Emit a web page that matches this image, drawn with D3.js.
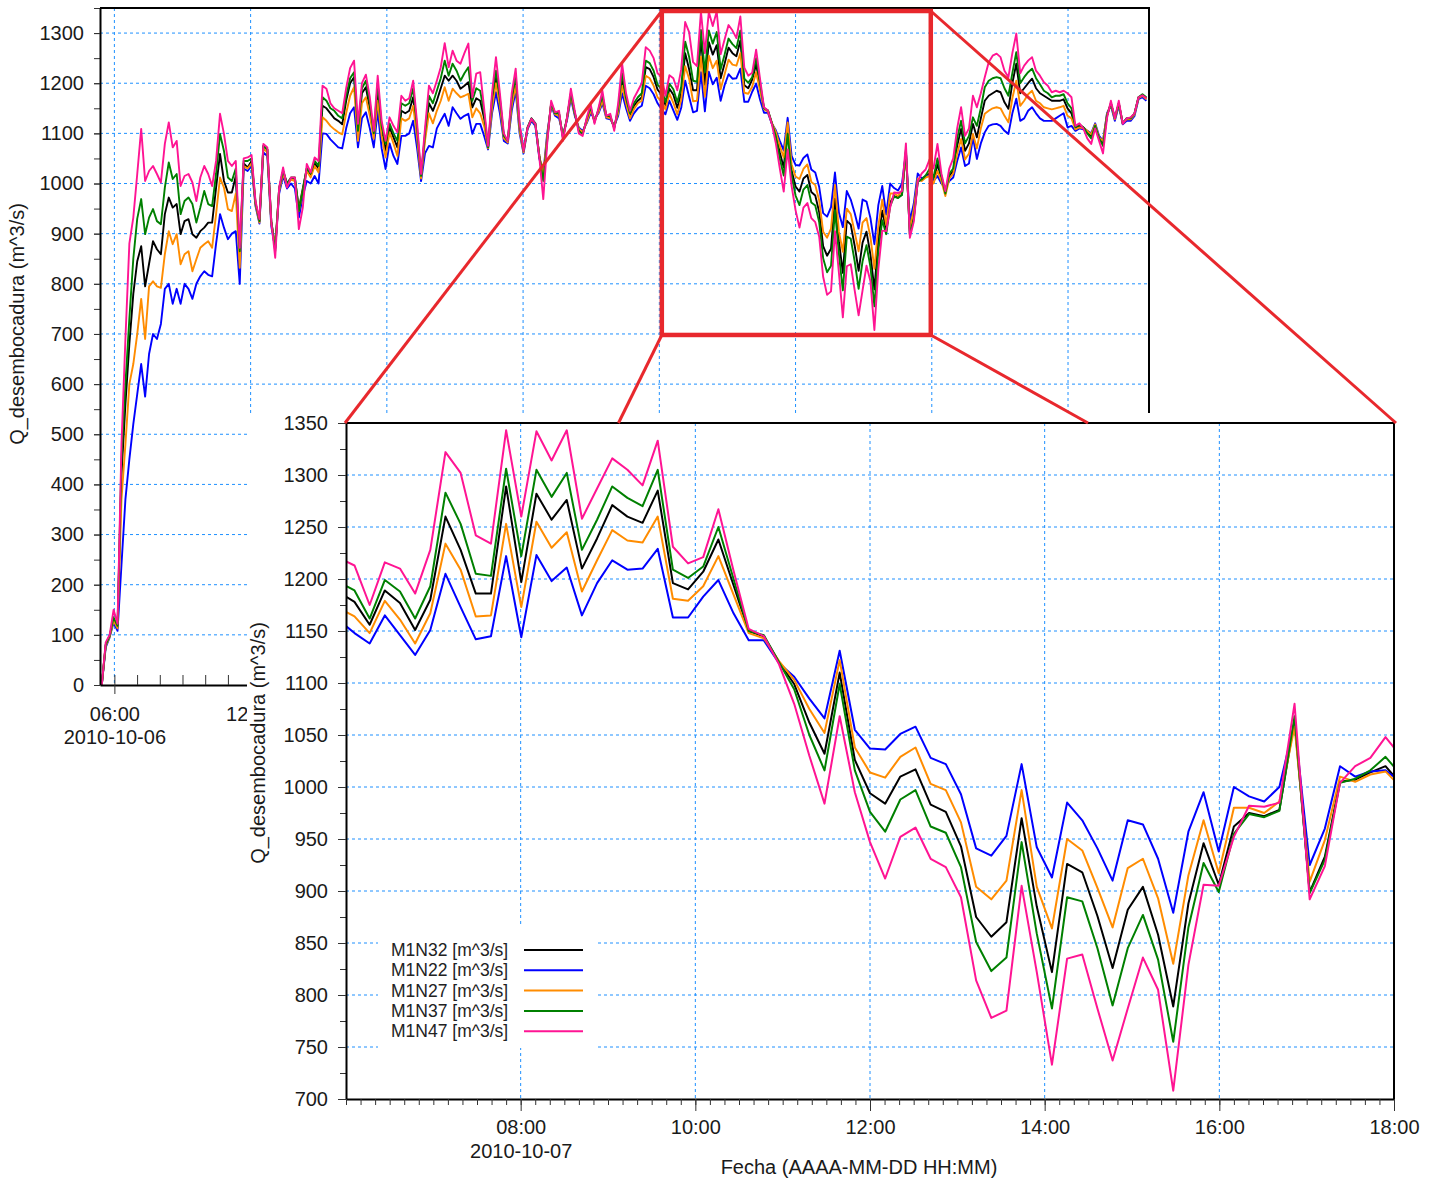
<!DOCTYPE html>
<html>
<head>
<meta charset="utf-8">
<script src="https://cdn.jsdelivr.net/npm/d3@7/dist/d3.min.js"></script>
<style>
  body { margin: 0; background: #fff; }
  svg { display: block; }
  text { font-family: "Liberation Sans", Arial, sans-serif; }
</style>
</head>
<body>
<svg id="chart" width="1436" height="1185"></svg>
<script>
// ---- Series metadata -------------------------------------------------------
const seriesNames  = ["M1N32 [m^3/s]", "M1N22 [m^3/s]", "M1N27 [m^3/s]", "M1N37 [m^3/s]", "M1N47 [m^3/s]"];
const seriesColors = ["#000000", "#0000ff", "#ff8c00", "#008000", "#ff1493"];

// Sampling of the model output (one value every 625 s)
const startTime   = "2010-10-06T05:26:40Z";
const stepSeconds = 625;

// Discharge at the river mouth, m^3/s
const m1n32 = [
  0, 80, 98, 130, 115, 420, 560, 680, 780, 845, 875,
  795, 840, 885, 869, 859, 939, 972, 952, 959, 899,
  925, 929, 899, 892, 905, 912, 922, 922, 992, 1059,
  1005, 982, 982, 1015, 852, 1040, 1032, 1045, 960, 925,
  1075, 1068, 925, 872, 990, 1025, 1000, 1010, 1010, 950,
  990, 1030, 1018, 1040, 1030, 1155, 1150, 1140, 1130, 1125,
  1118, 1165, 1200, 1212, 1100, 1180, 1192, 1150, 1099, 1182,
  1110, 1065, 1112, 1092, 1072, 1145, 1140, 1145, 1172, 1100,
  1012, 1095, 1160, 1145, 1165, 1190, 1215, 1205, 1215, 1205,
  1189, 1195, 1202, 1152, 1170, 1165, 1130, 1072, 1160, 1212,
  1165, 1092, 1085, 1162, 1205, 1110, 1065, 1112, 1130, 1120,
  1055, 1010, 1090, 1160, 1140, 1140, 1092, 1130, 1178, 1140,
  1108, 1100, 1125, 1148, 1125, 1145, 1170, 1135, 1132, 1112,
  1145, 1205, 1165, 1135, 1155, 1165, 1172, 1232, 1228, 1212,
  1187, 1178, 1156, 1189, 1177, 1151, 1180, 1260, 1228, 1186,
  1186, 1289, 1197, 1282, 1257, 1276, 1210, 1239, 1271, 1260,
  1254, 1285, 1196, 1190, 1207, 1238, 1194, 1150, 1145, 1120,
  1099, 1062, 1032, 1110, 1026, 994, 984, 1010, 1017, 983,
  976, 943, 875, 856, 870, 970, 885, 822, 926, 918,
  876, 826, 882, 904, 858, 789, 888, 946, 906, 962,
  975, 972, 978, 1064, 899, 933, 1005, 1007, 1014, 1020,
  1003, 1039, 1010, 985, 1015, 1025, 1075, 1109, 1065, 1080,
  1119, 1092, 1130, 1165, 1175, 1180, 1185, 1182, 1162, 1149,
  1200, 1239, 1180, 1190, 1200, 1209, 1190, 1180, 1175, 1170,
  1165, 1165, 1165, 1168, 1150, 1140, 1110, 1115, 1112, 1105,
  1095, 1115, 1090, 1080, 1135, 1160, 1130, 1160, 1120, 1130,
  1130, 1140, 1172, 1176, 1170
];
const m1n22 = [
  0, 75, 95, 125, 108, 240, 370, 450, 520, 580, 640,
  575, 660, 700, 690, 720, 790, 800, 760, 790, 760,
  800, 790, 770, 800, 815, 825, 818, 815, 880, 939,
  912, 889, 900, 905, 800, 1030, 1025, 1035, 955, 920,
  1062, 1055, 915, 870, 980, 1015, 990, 1000, 990, 932,
  975, 1005, 1000, 1015, 1000, 1100, 1099, 1088, 1080, 1072,
  1070, 1110, 1140, 1152, 1072, 1130, 1142, 1110, 1072, 1145,
  1070, 1029, 1080, 1055, 1039, 1095, 1095, 1100, 1125, 1070,
  1005, 1060, 1075, 1072, 1110, 1125, 1139, 1115, 1152, 1140,
  1129, 1135, 1139, 1099, 1119, 1119, 1095, 1068, 1140, 1182,
  1140, 1085, 1080, 1145, 1185, 1100, 1060, 1108, 1125, 1115,
  1050, 1019, 1100, 1155, 1135, 1130, 1098, 1125, 1170, 1135,
  1112, 1105, 1120, 1140, 1130, 1140, 1160, 1130, 1128, 1115,
  1135, 1180, 1150, 1125, 1140, 1150, 1155, 1195, 1190, 1178,
  1160, 1148, 1138, 1165, 1146, 1127, 1151, 1205, 1173, 1142,
  1145, 1222, 1144, 1223, 1198, 1211, 1165, 1196, 1218, 1209,
  1210, 1229, 1163, 1163, 1183, 1199, 1167, 1141, 1141, 1119,
  1106, 1085, 1066, 1131, 1055, 1037, 1036, 1051, 1058, 1028,
  1022, 993, 941, 934, 953, 1022, 942, 913, 985, 968,
  941, 910, 968, 964, 931, 879, 957, 995, 938, 1000,
  991, 986, 1000, 1062, 925, 960, 1020, 1010, 1015, 1016,
  1005, 1015, 1000, 990, 1005, 1012, 1045, 1072, 1035, 1040,
  1092, 1049, 1080, 1102, 1115, 1118, 1119, 1115, 1105, 1099,
  1140, 1169, 1125, 1130, 1145, 1152, 1140, 1130, 1125, 1125,
  1125, 1130, 1135, 1140, 1112, 1115, 1105, 1110, 1108, 1105,
  1100, 1120, 1095, 1085, 1140, 1155, 1125, 1155, 1118, 1125,
  1125, 1135, 1168, 1172, 1165
];
const m1n27 = [
  0, 78, 96, 128, 113, 370, 480, 600, 640, 700, 770,
  690, 795, 805, 795, 792, 859, 905, 879, 899, 839,
  859, 865, 825, 849, 872, 879, 885, 872, 939, 1012,
  992, 949, 945, 980, 832, 1035, 1030, 1040, 958, 922,
  1070, 1062, 920, 875, 985, 1020, 995, 1008, 1005, 945,
  985, 1025, 1012, 1035, 1022, 1132, 1125, 1115, 1108, 1102,
  1098, 1140, 1175, 1192, 1085, 1160, 1172, 1135, 1089, 1165,
  1095, 1052, 1102, 1080, 1055, 1130, 1125, 1130, 1155, 1090,
  1010, 1085, 1140, 1120, 1145, 1165, 1192, 1165, 1189, 1180,
  1172, 1175, 1179, 1132, 1150, 1140, 1115, 1070, 1150, 1200,
  1155, 1090, 1082, 1155, 1195, 1105, 1062, 1110, 1128, 1118,
  1055, 1015, 1095, 1158, 1138, 1135, 1095, 1128, 1175, 1138,
  1110, 1102, 1122, 1145, 1128, 1142, 1165, 1132, 1130, 1114,
  1140, 1195, 1160, 1130, 1148, 1160, 1165, 1215, 1210, 1195,
  1172, 1164, 1148, 1179, 1161, 1138, 1167, 1234, 1209, 1164,
  1165, 1253, 1173, 1255, 1230, 1245, 1188, 1218, 1247, 1237,
  1235, 1260, 1181, 1179, 1193, 1222, 1185, 1148, 1143, 1121,
  1103, 1075, 1052, 1122, 1038, 1014, 1009, 1029, 1038, 1003,
  997, 966, 904, 892, 910, 997, 904, 864, 950, 939,
  903, 865, 922, 931, 893, 830, 915, 968, 917, 980,
  980, 975, 986, 1058, 909, 949, 1010, 1005, 1012, 1015,
  1000, 1025, 1005, 975, 1010, 1020, 1060, 1089, 1048, 1060,
  1099, 1070, 1110, 1139, 1145, 1150, 1152, 1150, 1135, 1122,
  1170, 1205, 1155, 1165, 1178, 1185, 1165, 1160, 1152, 1150,
  1148, 1150, 1152, 1155, 1135, 1130, 1108, 1112, 1110, 1105,
  1098, 1118, 1092, 1085, 1138, 1158, 1128, 1158, 1120, 1128,
  1128, 1138, 1170, 1175, 1168
];
const m1n37 = [
  0, 80, 98, 135, 118, 450, 600, 730, 850, 930, 969,
  899, 932, 949, 925, 919, 992, 1042, 1009, 1019, 939,
  965, 972, 959, 922, 952, 985, 959, 955, 1019, 1099,
  1065, 1012, 1005, 1030, 865, 1045, 1045, 1050, 962, 925,
  1075, 1068, 925, 865, 990, 1025, 1000, 1012, 1012, 945,
  985, 1030, 1020, 1045, 1035, 1172, 1165, 1150, 1145, 1135,
  1130, 1175, 1210, 1222, 1105, 1190, 1205, 1160, 1100, 1199,
  1115, 1079, 1120, 1100, 1085, 1160, 1155, 1160, 1190, 1110,
  1015, 1100, 1175, 1160, 1185, 1210, 1245, 1215, 1239, 1225,
  1205, 1220, 1232, 1165, 1190, 1185, 1140, 1072, 1170, 1225,
  1170, 1095, 1085, 1170, 1215, 1115, 1065, 1110, 1129, 1119,
  1055, 1005, 1085, 1160, 1140, 1140, 1090, 1130, 1180, 1140,
  1105, 1098, 1128, 1152, 1122, 1148, 1175, 1135, 1135, 1110,
  1150, 1220, 1170, 1140, 1160, 1172, 1180, 1245, 1240, 1225,
  1197, 1189, 1162, 1199, 1188, 1162, 1193, 1283, 1253, 1205,
  1203, 1306, 1222, 1305, 1279, 1302, 1228, 1257, 1289, 1278,
  1270, 1305, 1209, 1201, 1212, 1250, 1200, 1150, 1146, 1120,
  1094, 1050, 1016, 1099, 1016, 976, 957, 988, 997, 962,
  956, 923, 851, 823, 836, 947, 859, 787, 894, 890,
  845, 790, 845, 877, 834, 755, 865, 927, 899, 955,
  974, 971, 977, 1068, 898, 930, 1004, 1008, 1016, 1029,
  1012, 1050, 1015, 980, 1020, 1030, 1090, 1125, 1080, 1095,
  1132, 1115, 1150, 1192, 1205, 1210, 1212, 1210, 1190, 1175,
  1220, 1262, 1200, 1212, 1222, 1229, 1210, 1198, 1185, 1180,
  1172, 1175, 1175, 1178, 1160, 1150, 1112, 1118, 1112, 1100,
  1090, 1115, 1090, 1075, 1135, 1160, 1130, 1160, 1120, 1130,
  1130, 1140, 1172, 1178, 1172
];
const m1n47 = [
  0, 85, 100, 150, 122, 480, 690, 880, 932, 1019, 1109,
  1005, 1025, 1035, 1019, 1002, 1079, 1122, 1072, 1085, 995,
  1015, 1019, 1002, 965, 1012, 1035, 1019, 995, 1045, 1139,
  1099, 1045, 1035, 1045, 872, 1050, 1052, 1057, 965, 929,
  1079, 1072, 925, 852, 992, 1032, 992, 1012, 1012, 909,
  952, 1039, 1022, 1052, 1045, 1195, 1189, 1160, 1150, 1145,
  1140, 1190, 1230, 1245, 1119, 1200, 1217, 1172, 1105, 1215,
  1125, 1085, 1132, 1115, 1102, 1175, 1165, 1170, 1205, 1120,
  1019, 1110, 1195, 1180, 1205, 1232, 1280, 1232, 1265, 1245,
  1239, 1260, 1279, 1172, 1219, 1222, 1150, 1075, 1180, 1252,
  1180, 1100, 1085, 1180, 1229, 1120, 1065, 1110, 1129, 1119,
  1052, 969, 1080, 1165, 1142, 1145, 1085, 1130, 1189, 1145,
  1100, 1095, 1130, 1159, 1119, 1150, 1185, 1135, 1139, 1105,
  1160, 1239, 1180, 1145, 1170, 1185, 1200, 1272, 1265, 1250,
  1220, 1213, 1175, 1216, 1210, 1186, 1228, 1322, 1302, 1242,
  1234, 1343, 1260, 1342, 1314, 1343, 1258, 1287, 1316, 1305,
  1290, 1333, 1231, 1215, 1221, 1267, 1208, 1152, 1145, 1118,
  1080, 1030, 984, 1068, 995, 947, 912, 952, 961, 931,
  923, 894, 814, 778, 785, 905, 822, 733, 835, 839,
  787, 737, 787, 836, 805, 708, 829, 906, 905, 952,
  982, 981, 985, 1080, 892, 924, 1004, 1020, 1028, 1048,
  1030, 1079, 1020, 985, 1030, 1050, 1110, 1152, 1095, 1110,
  1175, 1152, 1180, 1212, 1242, 1255, 1259, 1252, 1225, 1212,
  1260, 1299, 1220, 1235, 1245, 1252, 1225, 1215, 1202, 1195,
  1182, 1185, 1182, 1185, 1180, 1172, 1115, 1120, 1110, 1090,
  1079, 1110, 1085, 1060, 1130, 1165, 1130, 1165, 1119, 1130,
  1132, 1140, 1172, 1176, 1170
];

// Axis settings
const mainDomain  = ["2010-10-06T05:22:00Z", "2010-10-08T03:34:00Z"];
const insetDomain = ["2010-10-07T06:00:00Z", "2010-10-07T18:00:00Z"];
const mainYMax = 1350;
const insetYRange = [700, 1350];
const mainYTickLabels = [0, 100, 200, 300, 400, 500, 600, 700, 800, 900, 1000, 1100, 1200, 1300];
const insetYTickLabels = [700, 750, 800, 850, 900, 950, 1000, 1050, 1100, 1150, 1200, 1250, 1300, 1350];
const yAxisTitle = "Q_desembocadura (m^3/s)";
const xAxisTitle = "Fecha (AAAA-MM-DD HH:MM)";

// ---- Setup ----------------------------------------------------------------
const svg = d3.select("#chart");
const TEXT = "#1a1a1a";
const GRID = "#1e90ff";
const RED = "#e8282d";
const FONT = '"Liberation Sans", Arial, sans-serif';
const fmtInt = d3.format("d");

const parse = d3.isoParse;
const t0 = parse(startTime);
const times = m1n32.map((_, i) => new Date(t0.getTime() + i * stepSeconds * 1000));
const seriesValues = [m1n32, m1n22, m1n27, m1n37, m1n47];
const series = seriesNames.map((name, k) => ({
  name, color: seriesColors[k],
  points: seriesValues[k].map((v, i) => ({ t: times[i], v }))
}));

// ---- Main (overview) chart -------------------------------------------------
const M = { left: 100, right: 1149, top: 8, bottom: 685 };
const mainX = d3.scaleUtc().domain(mainDomain.map(parse)).range([M.left, M.right]);
const mainY = d3.scaleLinear().domain([0, mainYMax]).range([M.bottom, M.top]);

const defs = svg.append("defs");
defs.append("clipPath").attr("id", "clipMain").append("rect")
  .attr("x", M.left).attr("y", M.top).attr("width", M.right - M.left).attr("height", M.bottom - M.top);

const gMain = svg.append("g");

// grid
const mainGridY = mainYTickLabels.filter(v => v > 0);
gMain.append("g").selectAll("line").data(mainGridY).join("line")
  .attr("x1", M.left).attr("x2", M.right)
  .attr("y1", d => mainY(d)).attr("y2", d => mainY(d))
  .attr("stroke", GRID).attr("stroke-width", 1).attr("stroke-dasharray", "3,3");
const main6h = d3.utcHour.every(6).range(mainX.domain()[0], mainX.domain()[1]);
gMain.append("g").selectAll("line").data(main6h).join("line")
  .attr("x1", d => mainX(d)).attr("x2", d => mainX(d))
  .attr("y1", M.top).attr("y2", M.bottom)
  .attr("stroke", GRID).attr("stroke-width", 1).attr("stroke-dasharray", "3,3");

// series
const mainLine = d3.line().x(d => mainX(d.t)).y(d => mainY(d.v));
gMain.append("g").attr("clip-path", "url(#clipMain)")
  .selectAll("path").data(series).join("path")
  .attr("d", d => mainLine(d.points))
  .attr("fill", "none").attr("stroke", d => d.color)
  .attr("stroke-width", 1.9).attr("stroke-linejoin", "round");

// axes
const yMinor = d3.range(0, 1351, 50);
gMain.append("g").attr("transform", `translate(${M.left},0)`)
  .call(d3.axisLeft(mainY).tickValues(yMinor).tickSize(6).tickSizeOuter(0).tickFormat(""))
  .call(g => g.select(".domain").remove())
  .call(g => g.selectAll("line").attr("stroke", "#333"));
gMain.append("g").attr("transform", `translate(${M.left},0)`)
  .call(d3.axisLeft(mainY).tickValues(mainYTickLabels).tickSize(6).tickSizeOuter(0).tickPadding(10).tickFormat(fmtInt))
  .call(g => g.select(".domain").attr("stroke", "#000").attr("stroke-width", 2))
  .call(g => g.selectAll("line").attr("stroke", "#333"))
  .call(g => g.selectAll("text").attr("fill", TEXT).attr("font-size", 20).attr("font-family", FONT));

const mainHours = d3.utcHour.every(1).range(mainX.domain()[0], mainX.domain()[1]);
gMain.append("g").attr("transform", `translate(0,${M.bottom})`)
  .call(d3.axisBottom(mainX).tickValues(mainHours).tickSize(-10).tickSizeOuter(0).tickFormat(""))
  .call(g => g.select(".domain").attr("stroke", "#000").attr("stroke-width", 2))
  .call(g => g.selectAll("line").attr("stroke", "#333"));
const fmtHM = d3.utcFormat("%H:%M");
const fmtDate = d3.utcFormat("%Y-%m-%d");
gMain.append("g").attr("transform", `translate(0,${M.bottom})`)
  .call(d3.axisBottom(mainX).tickValues(main6h).tickSize(9).tickSizeOuter(0).tickFormat(fmtHM))
  .call(g => g.select(".domain").remove())
  .call(g => g.selectAll("line").attr("stroke", "#333"))
  .call(g => g.selectAll("text").attr("y", 36).attr("dy", null).attr("fill", TEXT)
    .attr("font-size", 20).attr("font-family", FONT))
  .call(g => g.select(".tick").append("text").attr("y", 59).attr("fill", TEXT)
    .attr("font-size", 20).attr("font-family", FONT)
    .text(fmtDate(main6h[0])));

// frame
gMain.append("path")
  .attr("d", `M${M.left},${M.top}H${M.right}V${M.bottom}`)
  .attr("fill", "none").attr("stroke", "#000").attr("stroke-width", 2);

// y title
gMain.append("text")
  .attr("transform", "translate(24,324) rotate(-90)")
  .attr("text-anchor", "middle").attr("font-size", 20).attr("fill", TEXT)
  .text(yAxisTitle);

// zoom window on the overview
const zx0 = mainX(parse(insetDomain[0])) + 2.5, zx1 = mainX(parse(insetDomain[1])) - 1;
const zy0 = mainY(insetYRange[1]) + 3, zy1 = mainY(insetYRange[0]) + 1;

// ---- Inset (detail) chart -------------------------------------------------
const I = { left: 346, right: 1394, top: 423, bottom: 1099 };
const insX = d3.scaleUtc().domain(insetDomain.map(parse)).range([I.left, I.right]);
const insY = d3.scaleLinear().domain(insetYRange).range([I.bottom, I.top]);

// panel background hides the lower part of the overview
svg.append("rect").attr("x", 247).attr("y", 413).attr("width", 1436 - 247).attr("height", 1185 - 413)
  .attr("fill", "#fff");

defs.append("clipPath").attr("id", "clipInset").append("rect")
  .attr("x", I.left).attr("y", I.top).attr("width", I.right - I.left).attr("height", I.bottom - I.top);

const gIns = svg.append("g");
const insGridY = insetYTickLabels.filter(v => v > insetYRange[0] && v < insetYRange[1]);
gIns.append("g").selectAll("line").data(insGridY).join("line")
  .attr("x1", I.left).attr("x2", I.right)
  .attr("y1", d => insY(d)).attr("y2", d => insY(d))
  .attr("stroke", GRID).attr("stroke-width", 1).attr("stroke-dasharray", "3,3");
const ins2h = d3.utcHour.every(2).range(insX.domain()[0], d3.utcMinute.offset(insX.domain()[1], 1));
gIns.append("g").selectAll("line").data(ins2h.slice(1, -1)).join("line")
  .attr("x1", d => insX(d)).attr("x2", d => insX(d))
  .attr("y1", I.top).attr("y2", I.bottom)
  .attr("stroke", GRID).attr("stroke-width", 1).attr("stroke-dasharray", "3,3");

const insLine = d3.line().x(d => insX(d.t)).y(d => insY(d.v));
gIns.append("g").attr("clip-path", "url(#clipInset)")
  .selectAll("path").data(series).join("path")
  .attr("d", d => insLine(d.points))
  .attr("fill", "none").attr("stroke", d => d.color)
  .attr("stroke-width", 2).attr("stroke-linejoin", "round");

// inset axes
const insYMinor = d3.range(700, 1351, 25);
gIns.append("g").attr("transform", `translate(${I.left},0)`)
  .call(d3.axisLeft(insY).tickValues(insYMinor).tickSize(6).tickSizeOuter(0).tickFormat(""))
  .call(g => g.select(".domain").remove())
  .call(g => g.selectAll("line").attr("stroke", "#333"));
gIns.append("g").attr("transform", `translate(${I.left},0)`)
  .call(d3.axisLeft(insY).tickValues(insetYTickLabels).tickSize(8).tickSizeOuter(0).tickPadding(10).tickFormat(fmtInt))
  .call(g => g.select(".domain").attr("stroke", "#000").attr("stroke-width", 2))
  .call(g => g.selectAll("line").attr("stroke", "#333"))
  .call(g => g.selectAll("text").attr("fill", TEXT).attr("font-size", 20).attr("font-family", FONT));

const ins10m = d3.utcMinute.every(10).range(insX.domain()[0], d3.utcMinute.offset(insX.domain()[1], 1));
gIns.append("g").attr("transform", `translate(0,${I.bottom})`)
  .call(d3.axisBottom(insX).tickValues(ins10m).tickSize(6).tickSizeOuter(0).tickFormat(""))
  .call(g => g.select(".domain").attr("stroke", "#000").attr("stroke-width", 2))
  .call(g => g.selectAll("line").attr("stroke", "#333"));
const insLabelTicks = ins2h.slice(1);
gIns.append("g").attr("transform", `translate(0,${I.bottom})`)
  .call(d3.axisBottom(insX).tickValues(insLabelTicks).tickSize(12).tickSizeOuter(0).tickFormat(fmtHM))
  .call(g => g.select(".domain").remove())
  .call(g => g.selectAll("line").attr("stroke", "#333"))
  .call(g => g.selectAll("text").attr("y", 35).attr("dy", null).attr("fill", TEXT)
    .attr("font-size", 20).attr("font-family", FONT))
  .call(g => g.select(".tick").append("text").attr("y", 59).attr("fill", TEXT)
    .attr("font-size", 20).attr("font-family", FONT)
    .text(fmtDate(insLabelTicks[0])));

// inset frame
gIns.append("path")
  .attr("d", `M${I.left},${I.top}H${I.right}V${I.bottom}`)
  .attr("fill", "none").attr("stroke", "#000").attr("stroke-width", 2);

// titles
gIns.append("text")
  .attr("transform", "translate(265,743) rotate(-90)")
  .attr("text-anchor", "middle").attr("font-size", 20).attr("fill", TEXT)
  .text(yAxisTitle);
gIns.append("text")
  .attr("x", 859).attr("y", 1174)
  .attr("text-anchor", "middle").attr("font-size", 20).attr("fill", TEXT)
  .text(xAxisTitle);

// legend
const legend = gIns.append("g");
legend.append("rect").attr("x", 378).attr("y", 927).attr("width", 220).attr("height", 121).attr("fill", "#fff");
const legRows = legend.selectAll("g").data(series).join("g")
  .attr("transform", (d, i) => `translate(0,${950 + i * 20.3})`);
legRows.append("text").attr("x", 391).attr("dy", "0.35em")
  .attr("font-size", 17.5).attr("fill", "#222").text(d => d.name);
legRows.append("line").attr("x1", 524).attr("x2", 583)
  .attr("stroke", d => d.color).attr("stroke-width", 2);

// ---- Zoom window and connectors ------------------------------------------
const gZoom = svg.append("g");
gZoom.append("rect")
  .attr("x", zx0).attr("y", zy0).attr("width", zx1 - zx0).attr("height", zy1 - zy0)
  .attr("fill", "none").attr("stroke", RED).attr("stroke-width", 4.5);
const leftFoot = I.left + 0.26 * (I.right - I.left);
const rightFoot = I.left + 0.708 * (I.right - I.left);
const connectors = [
  [zx0, zy0, I.left - 1, I.top],
  [zx0, zy1, leftFoot, I.top],
  [zx1, zy0, I.right + 2, I.top],
  [zx1, zy1, rightFoot, I.top]
];
gZoom.selectAll("line").data(connectors).join("line")
  .attr("x1", d => d[0]).attr("y1", d => d[1]).attr("x2", d => d[2]).attr("y2", d => d[3])
  .attr("stroke", RED).attr("stroke-width", 3);
</script>
</body>
</html>
